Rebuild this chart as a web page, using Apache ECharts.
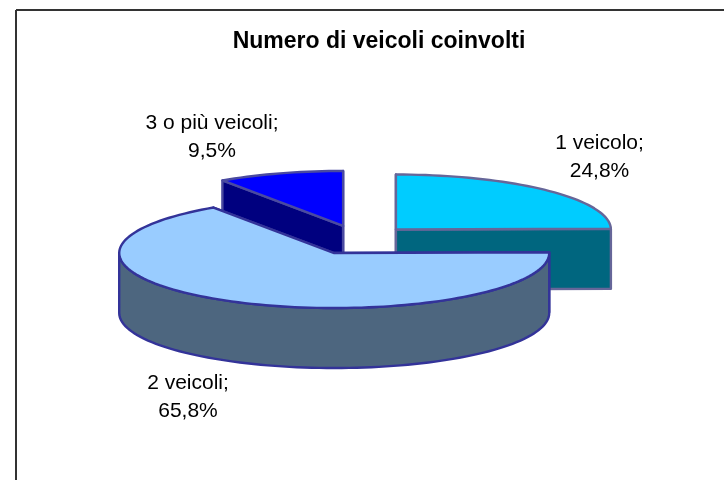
<!DOCTYPE html>
<html>
<head>
<meta charset="utf-8">
<style>
  html, body { margin: 0; padding: 0; background: #fff; }
  #myChart { width: 724px; height: 480px; }
</style>
<script src="https://cdn.jsdelivr.net/npm/echarts@6/dist/echarts.min.js"></script>
</head>
<body>
<div id="myChart"></div>
<script>
  // dati
  var categories = ['1 veicolo', '2 veicoli', '3 o più veicoli']
  var values = [24.8, 65.8, 9.5]
  var topColors = ['#00CCFF', '#99CCFF', '#0000FF']
  var sideColors = ['#00667F', '#4D667F', '#00007F']
  var borderColors = ['#666699', '#333399', '#4A4AA0']
  var labelPos = [[599.5, 143], [188, 383], [212, 123]]

  // geometria della torta 3D
  var cx = 358.7, cy = 240
  var rx = 215, ry = 55
  var depth = 60
  var explodeX = 53, explodeY = 14.7

  var total = values.reduce(function (a, b) { return a + b }, 0)
  var starts = []
  values.reduce(function (acc, v, i) {
    starts[i] = acc
    return acc + v / total * 360
  }, 0)

  function rad(a) { return a * Math.PI / 180 }

  // angolo in senso orario dalle ore 12
  function pt(c, a, dy) {
    return [c[0] + rx * Math.sin(rad(a)), c[1] - ry * Math.cos(rad(a)) + (dy || 0)]
  }

  function arc(c, a0, a1, dy) {
    var pts = []
    var n = Math.max(2, Math.ceil(Math.abs(a1 - a0) / 2))
    for (var i = 0; i <= n; i++) {
      pts.push(pt(c, a0 + (a1 - a0) * i / n, dy))
    }
    return pts
  }

  function face(points, fill, stroke) {
    return {
      type: 'polygon',
      shape: { points: points },
      style: { fill: fill, stroke: stroke, lineWidth: 2.4, lineJoin: 'round' }
    }
  }

  function renderSlice(params, api) {
    var i = api.value(0)
    var a0 = starts[i]
    var a1 = a0 + values[i] / total * 360
    var mid = (a0 + a1) / 2
    var c = [cx + explodeX * Math.sin(rad(mid)), cy - explodeY * Math.cos(rad(mid))]
    var fill = topColors[i], side = sideColors[i], line = borderColors[i]
    var children = []

    // facce radiali
    ;[a0, a1].forEach(function (a) {
      children.push(face([c, pt(c, a), pt(c, a, depth), [c[0], c[1] + depth]], side, line))
    })

    // parete esterna, solo la parte davanti
    var w0 = Math.max(a0, 90), w1 = Math.min(a1, 270)
    if (w1 > w0) {
      children.push(face(arc(c, w0, w1).concat(arc(c, w1, w0, depth)), side, line))
    }

    // faccia superiore
    children.push(face([c].concat(arc(c, a0, a1)), fill, line))

    return { type: 'group', children: children }
  }

  function renderLabel(params, api) {
    var i = api.value(0)
    return {
      type: 'text',
      style: {
        x: labelPos[i][0],
        y: labelPos[i][1],
        text: categories[i] + ';\n' + String(values[i]).replace('.', ',') + '%',
        fill: '#000',
        font: '21px "Liberation Sans", Arial, sans-serif',
        lineHeight: 28,
        align: 'center',
        verticalAlign: 'top'
      },
      y: -14
    }
  }

  // prima le fette dietro
  var drawOrder = values.map(function (v, i) { return i }).sort(function (p, q) {
    var mp = starts[p] + values[p] / total * 180
    var mq = starts[q] + values[q] / total * 180
    return Math.cos(rad(mq)) - Math.cos(rad(mp))
  })

  var myChart = echarts.init(document.getElementById('myChart'), null, { renderer: 'canvas' })
  var option = {
    animation: false,
    backgroundColor: '#fff',
    title: {
      text: 'Numero di veicoli coinvolti',
      left: 374,
      top: 25,
      textAlign: 'center',
      textStyle: {
        fontFamily: '"Liberation Sans", Arial, sans-serif',
        fontSize: 23,
        fontWeight: 'bold',
        color: '#000'
      }
    },
    graphic: [
      { type: 'line', shape: { x1: 16, y1: 10, x2: 724, y2: 10 }, style: { stroke: '#333', lineWidth: 2 } },
      { type: 'line', shape: { x1: 16, y1: 10, x2: 16, y2: 480 }, style: { stroke: '#333', lineWidth: 2 } }
    ],
    series: [
      {
        type: 'custom',
        coordinateSystem: 'none',
        renderItem: renderSlice,
        data: drawOrder.map(function (i) { return [i] }),
        silent: true
      },
      {
        type: 'custom',
        coordinateSystem: 'none',
        renderItem: renderLabel,
        data: categories.map(function (n, i) { return [i] }),
        silent: true
      }
    ]
  }
  myChart.setOption(option)
</script>
</body>
</html>
